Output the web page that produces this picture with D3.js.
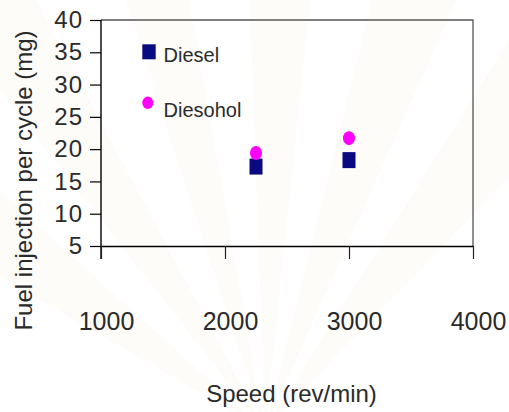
<!DOCTYPE html>
<html>
<head>
<meta charset="utf-8">
<script src="https://cdn.jsdelivr.net/npm/d3@7"></script>
<style>
  html, body { margin: 0; padding: 0; background: #fff; }
  svg { display: block; font-family: "Liberation Sans", Arial, Helvetica, sans-serif; }
</style>
</head>
<body>
<svg id="chart" width="509" height="412"></svg>
<script>
// Engine speed (rev/min) at which fuel injection was measured
const speeds = [2250, 3000];
// Fuel injection per cycle (mg)
const dieselValues = [17.3, 18.3];
const diesoholValues = [19.4, 21.7];
// Axis tick values
const xTicks = [1000, 2000, 3000, 4000];
const yTicks = [5, 10, 15, 20, 25, 30, 35, 40];
const seriesNames = ["Diesel", "Diesohol"];

const svg = d3.select("#chart");
const textColor = "#2a2a2a";

// very faint background rays
const bg = svg.append("g").attr("class", "backdrop");
const origin = [265, 430];
const rayAngles = [[-150, -138], [-128, -118], [-108, -100], [-92, -84], [-76, -66], [-58, -46]];
rayAngles.forEach(([a0, a1]) => {
  const r = 520, t0 = a0 * Math.PI / 180, t1 = a1 * Math.PI / 180;
  bg.append("path")
    .attr("d", `M${origin[0]},${origin[1]} L${origin[0] + r * Math.cos(t0)},${origin[1] + r * Math.sin(t0)} L${origin[0] + r * Math.cos(t1)},${origin[1] + r * Math.sin(t1)} Z`)
    .attr("fill", "#f1ecd8")
    .attr("opacity", 0.16);
});

const x = d3.scaleLinear().domain([1000, 4000]).range([101, 473]);
const y = d3.scaleLinear().domain([5, 40]).range([246, 20]);

// frame: top and right borders
svg.append("path")
  .attr("d", `M${x(1000)},${y(40)} H${x(4000)} V${y(5)}`)
  .attr("fill", "none")
  .attr("stroke", "#555")
  .attr("stroke-width", 1.3);

// y axis
const yAxis = svg.append("g")
  .attr("transform", `translate(${x(1000)},0)`)
  .call(d3.axisLeft(y).tickValues(yTicks).tickSize(11).tickPadding(7).tickSizeOuter(0));
yAxis.select(".domain").remove();
yAxis.selectAll("line").attr("stroke", "#000").attr("stroke-width", 1.2);
yAxis.selectAll("text")
  .attr("font-size", 24)
  .attr("fill", textColor)
  .attr("letter-spacing", 1)
  .attr("font-family", "Liberation Sans, Arial, sans-serif");

// left axis line, extending below the x axis
svg.append("line")
  .attr("x1", x(1000)).attr("x2", x(1000))
  .attr("y1", y(40)).attr("y2", y(5) + 13)
  .attr("stroke", "#000").attr("stroke-width", 1.4);

// x axis
const xAxis = svg.append("g")
  .attr("transform", `translate(0,${y(5)})`)
  .call(d3.axisBottom(x).tickValues(xTicks).tickFormat(d3.format("d")).tickSize(13).tickPadding(53).tickSizeOuter(0));
xAxis.select(".domain").attr("stroke", "#000").attr("stroke-width", 1.4);
xAxis.selectAll("line").attr("stroke", "#222").attr("stroke-width", 1.2);
xAxis.selectAll("text")
  .attr("font-size", 25)
  .attr("fill", textColor)
  .attr("dx", 5)
  .attr("font-family", "Liberation Sans, Arial, sans-serif");

// axis titles
svg.append("text")
  .attr("x", 291.5).attr("y", 402)
  .attr("text-anchor", "middle")
  .attr("font-size", 24)
  .attr("fill", textColor)
  .text("Speed (rev/min)");

svg.append("text")
  .attr("transform", "translate(32,180.5) rotate(-90)")
  .attr("text-anchor", "middle")
  .attr("font-size", 24)
  .attr("fill", textColor)
  .text("Fuel injection per cycle (mg)");

const navy = "#0a0a80";
const magenta = "#ff00ff";

// Diesel points (squares)
svg.append("g").selectAll("rect")
  .data(speeds.map((s, i) => [s, dieselValues[i]]))
  .join("rect")
  .attr("x", d => x(d[0]) - 6.5)
  .attr("y", d => y(d[1]) - 8)
  .attr("width", 13)
  .attr("height", 16)
  .attr("fill", navy);

// Diesohol points (ellipses)
svg.append("g").selectAll("ellipse")
  .data(speeds.map((s, i) => [s, diesoholValues[i]]))
  .join("ellipse")
  .attr("cx", d => x(d[0]))
  .attr("cy", d => y(d[1]))
  .attr("rx", 6)
  .attr("ry", 7)
  .attr("fill", magenta);

// legend
const legend = svg.append("g");
legend.append("rect")
  .attr("x", 142.3).attr("y", 44.3)
  .attr("width", 13.4).attr("height", 15)
  .attr("fill", navy);
legend.append("text")
  .attr("x", 163.5).attr("y", 61.7)
  .attr("font-size", 20)
  .attr("fill", textColor)
  .text(seriesNames[0]);
legend.append("ellipse")
  .attr("cx", 147.8).attr("cy", 102.8)
  .attr("rx", 5.5).attr("ry", 6.2)
  .attr("fill", magenta);
legend.append("text")
  .attr("x", 163.5).attr("y", 116.7)
  .attr("font-size", 20)
  .attr("fill", textColor)
  .text(seriesNames[1]);
</script>
</body>
</html>
